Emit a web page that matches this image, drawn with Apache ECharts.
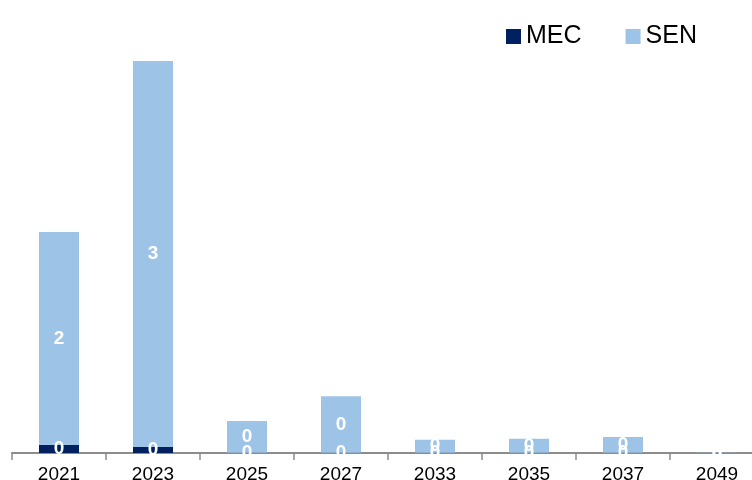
<!DOCTYPE html>
<html>
<head>
<meta charset="utf-8">
<script src="https://cdn.jsdelivr.net/npm/echarts@6/dist/echarts.min.js"></script>
<style>html,body{margin:0;padding:0;background:#fff;}#c{width:752px;height:480px;}</style>
</head>
<body>
<div id="c"></div>
<script>
var categories = ['2021', '2023', '2025', '2027', '2033', '2035', '2037', '2049'];
var mecValues = [0.065, 0.05, 0.002, 0.003, 0.002, 0.002, 0.002, 0];
var senValues = [1.74, 3.15, 0.26, 0.46, 0.106, 0.114, 0.128, 0.003];

var chart = echarts.init(document.getElementById('c'));
var labelStyle = {
  show: true,
  position: 'inside',
  color: '#ffffff',
  fontWeight: 'bold',
  fontSize: 19,
  fontFamily: 'Liberation Sans, Arial, sans-serif',
  formatter: function (p) { return Math.round(p.value); }
};
chart.setOption({
  animation: false,
  backgroundColor: '#ffffff',
  legend: {
    left: 501,
    top: 19,
    itemWidth: 15,
    itemHeight: 15,
    itemGap: 44,
    icon: 'rect',
    textStyle: { fontSize: 25, color: '#000', fontFamily: 'Liberation Sans, Arial, sans-serif' },
    data: ['MEC', 'SEN']
  },
  grid: { left: 12, top: 61, right: -12, bottom: 27, containLabel: false, outerBoundsMode: 'none' },
  xAxis: {
    type: 'category',
    data: categories,
    axisLine: { lineStyle: { color: '#8c8c8c', width: 2 } },
    axisTick: { show: true, length: 7, lineStyle: { color: '#8c8c8c', width: 1.5 } },
    axisLabel: { color: '#000', fontSize: 19, margin: 12, fontFamily: 'Liberation Sans, Arial, sans-serif' }
  },
  yAxis: {
    type: 'value', min: 0, max: 3.2, show: false,
    splitLine: { show: false }
  },
  series: [
    {
      name: 'MEC', type: 'bar', stack: 'total', barWidth: 40,
      itemStyle: { color: '#002060' },
      label: labelStyle,
      data: mecValues
    },
    {
      name: 'SEN', type: 'bar', stack: 'total', barWidth: 40,
      itemStyle: { color: '#9dc3e6' },
      label: labelStyle,
      data: senValues
    }
  ]
});
</script>
</body>
</html>
